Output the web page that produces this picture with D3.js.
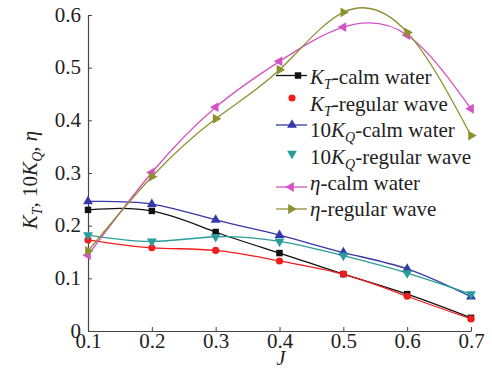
<!DOCTYPE html>
<html>
<head>
<meta charset="utf-8">
<script src="https://cdn.jsdelivr.net/npm/d3@7"></script>
<style>
  html, body { margin: 0; padding: 0; background: #fff; }
  svg { display: block; }
  svg text { font-family: "Liberation Serif", "Times New Roman", serif; }
</style>
</head>
<body>
<svg id="chart" width="492" height="370"></svg>
<script>
// Advance coefficient J and propeller open-water characteristics
const J = [0.1, 0.2, 0.3, 0.4, 0.5, 0.6, 0.7];
const ktCalm  = [0.230, 0.228, 0.188, 0.148, 0.108, 0.070, 0.025];
const ktWave  = [0.173, 0.158, 0.153, 0.133, 0.108, 0.066, 0.023];
const kqCalm  = [0.246, 0.241, 0.211, 0.182, 0.149, 0.118, 0.065];
const kqWave  = [0.182, 0.170, 0.179, 0.170, 0.143, 0.110, 0.070];
const etaCalm = [0.144, 0.301, 0.425, 0.512, 0.577, 0.562, 0.422];
const etaWave = [0.152, 0.293, 0.403, 0.496, 0.605, 0.567, 0.371];

const xTicks = [0.1, 0.2, 0.3, 0.4, 0.5, 0.6, 0.7];
const yTicks = [0, 0.1, 0.2, 0.3, 0.4, 0.5, 0.6];

const FONT = "'Liberation Serif', 'Times New Roman', serif";

const series = [
  { values: ktCalm,  color: "#111111", symbol: d3.symbolSquare,   rot: 0,   size: 42, legendLine: true,  main: "K", sub: "T", rest: "-calm water" },
  { values: ktWave,  color: "#f21c1c", symbol: d3.symbolCircle,   rot: 0,   size: 40, legendLine: false, main: "K", sub: "T", rest: "-regular wave" },
  { values: kqCalm,  color: "#3538a6", symbol: d3.symbolTriangle, rot: 0,   size: 42, legendLine: true,  pre: "10", main: "K", sub: "Q", rest: "-calm water" },
  { values: kqWave,  color: "#2b9c9c", symbol: d3.symbolTriangle, rot: 180, size: 42, legendLine: false, pre: "10", main: "K", sub: "Q", rest: "-regular wave" },
  { values: etaCalm, color: "#d452c4", symbol: d3.symbolTriangle, rot: -90, size: 42, legendLine: true,  main: "η", rest: "-calm water" },
  { values: etaWave, color: "#8e9030", symbol: d3.symbolTriangle, rot: 90,  size: 42, legendLine: true,  main: "η", rest: "-regular wave" }
];

const svg = d3.select("#chart");
const x = d3.scaleLinear().domain([0.1, 0.7]).range([88, 471]);
const y = d3.scaleLinear().domain([0, 0.6]).range([331, 15]);

// Axes with inward ticks
const axisColor = "#444";
const xAxis = svg.append("g").attr("transform", "translate(0,331)")
  .call(d3.axisBottom(x).tickValues(xTicks).tickSizeInner(-4).tickSizeOuter(0).tickFormat(d3.format(".1f")));
const yAxis = svg.append("g").attr("transform", "translate(88,0)")
  .call(d3.axisLeft(y).tickValues(yTicks).tickSizeInner(-4).tickSizeOuter(0).tickFormat(d => d === 0 ? "0" : d3.format(".1f")(d)));
[xAxis, yAxis].forEach(g => {
  g.attr("font-family", FONT);
  g.select(".domain").attr("stroke", axisColor).attr("stroke-width", 1.2);
  g.selectAll(".tick line").attr("stroke", axisColor);
  g.selectAll(".tick text").attr("fill", "#222").attr("font-size", 21).attr("font-family", FONT);
});
xAxis.selectAll(".tick text").attr("y", 2).attr("dy", "0.71em");
yAxis.selectAll(".tick text").attr("x", -7).attr("dy", "0.3em");

// Curves through the measured points
const line = d3.line().x((d, i) => x(J[i])).y(d => y(d)).curve(d3.curveNatural);
series.forEach(s => {
  svg.append("path").attr("d", line(s.values)).attr("fill", "none")
    .attr("stroke", s.color).attr("stroke-width", 1.3);
});
series.forEach(s => {
  const sym = d3.symbol().type(s.symbol).size(s.size);
  svg.append("g").selectAll("path").data(s.values).join("path")
    .attr("d", sym)
    .attr("transform", (d, i) => `translate(${x(J[i])},${y(d)}) rotate(${s.rot})`)
    .attr("fill", s.color);
});

// Legend
const legendBase = [84, 110.5, 137, 163.5, 190, 216];
const legendMarkY = [75.5, 98, 125, 153.5, 187, 209];
const legendMarkX = [298, 292, 292, 292, 291, 291];
series.forEach((s, i) => {
  const g = svg.append("g");
  if (s.legendLine) {
    g.append("line").attr("x1", 276).attr("x2", 307)
      .attr("y1", legendMarkY[i]).attr("y2", legendMarkY[i])
      .attr("stroke", s.color).attr("stroke-width", 1.3);
  }
  g.append("path").attr("d", d3.symbol().type(s.symbol).size(s.size)())
    .attr("transform", `translate(${legendMarkX[i]},${legendMarkY[i]}) rotate(${s.rot})`)
    .attr("fill", s.color);
  const t = g.append("text").attr("x", 310).attr("y", legendBase[i])
    .attr("font-family", FONT).attr("font-size", 21).attr("fill", "#222");
  if (s.pre) t.append("tspan").text(s.pre);
  t.append("tspan").attr("font-style", "italic").text(s.main);
  if (s.sub) {
    t.append("tspan").attr("font-style", "italic").attr("font-size", 14).attr("dy", 5).text(s.sub);
    t.append("tspan").attr("dy", -5).text(s.rest);
  } else {
    t.append("tspan").text(s.rest);
  }
});

// Axis titles
svg.append("text").attr("x", 281).attr("y", 365).attr("text-anchor", "middle")
  .attr("font-family", FONT).attr("font-size", 20).attr("font-style", "italic").attr("fill", "#222").text("J");

const yt = svg.append("text").attr("transform", "translate(37,180) rotate(-90)")
  .attr("text-anchor", "middle").attr("font-family", FONT).attr("font-size", 21).attr("fill", "#222");
yt.append("tspan").attr("font-style", "italic").text("K");
yt.append("tspan").attr("font-style", "italic").attr("font-size", 14).attr("dy", 5).text("T");
yt.append("tspan").attr("dy", -5).text(", 10");
yt.append("tspan").attr("font-style", "italic").text("K");
yt.append("tspan").attr("font-style", "italic").attr("font-size", 14).attr("dy", 5).text("Q");
yt.append("tspan").attr("dy", -5).text(", ");
yt.append("tspan").attr("font-style", "italic").text("η");
</script>
</body>
</html>
